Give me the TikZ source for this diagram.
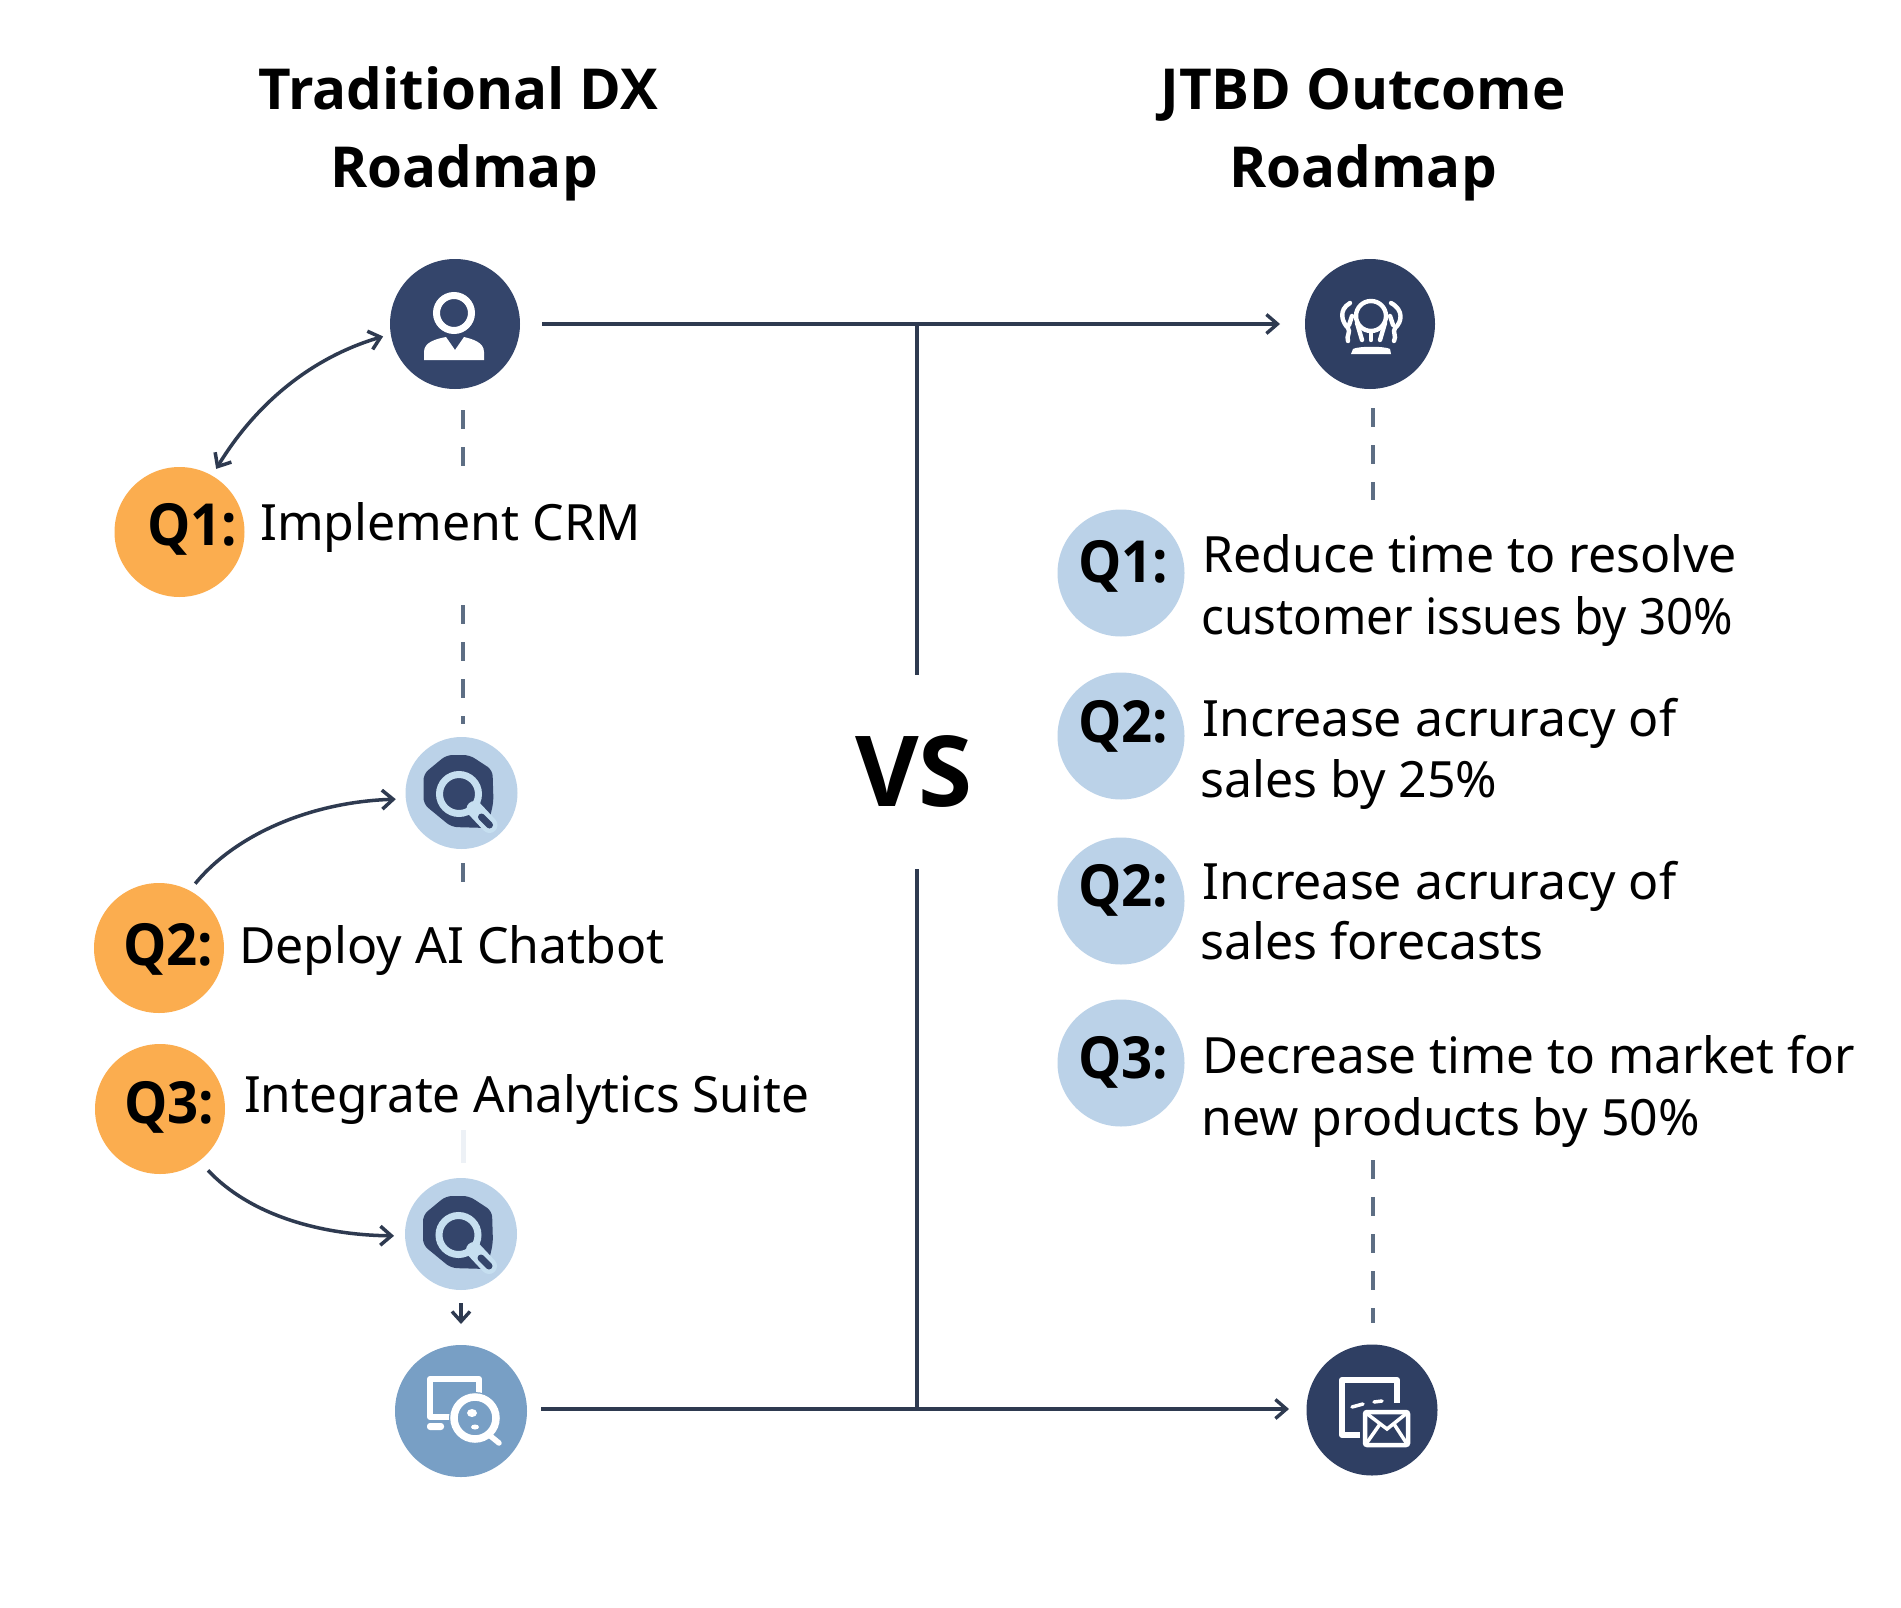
\documentclass[tikz,border=0pt]{standalone}
\usepackage{fontspec}
\setmainfont{Open Sans}
\newfontfamily\bodyf{Noto Sans}
\newfontfamily\bodyn{Noto Sans}[FakeStretch=0.95]
\newfontfamily\bodym{Noto Sans}[FakeStretch=0.99]
\newfontfamily\qfont{Open Sans}[FakeStretch=0.94]
\usetikzlibrary{arrows.meta}
\definecolor{navy}{HTML}{34456B}
\definecolor{navyd}{HTML}{2F3F63}
\definecolor{pale}{HTML}{BBD2E8}
\definecolor{palei}{HTML}{C6DFF0}
\definecolor{orangeq}{HTML}{FBAD4F}
\definecolor{midblue}{HTML}{789FC5}
\definecolor{linec}{HTML}{2E3A50}
\definecolor{dashc}{HTML}{5D6E84}
\definecolor{fainted}{HTML}{EDF1F6}
\tikzset{
  disc/.style={circle,inner sep=0pt,outer sep=0pt,minimum size=#1},
  title/.style={anchor=base,inner sep=0pt,font=\fontsize{56.5}{60}\selectfont\bfseries},
  body/.style={anchor=base west,inner sep=0pt,text=black,font=\bodyf\fontsize{50}{60}\selectfont},
  bodynarrow/.style={body,font=\bodyn\fontsize{50}{60}\selectfont},
  bodyslim/.style={body,font=\bodym\fontsize{50}{60}\selectfont},
  qlab/.style={anchor=base west,inner sep=0pt,text=black,font=\qfont\bfseries\fontsize{58}{60}\selectfont},
  conn/.style={draw=linec,line width=3.4pt},
  arr/.style={conn,-{Straight Barb[length=11pt,width=19pt,line width=3.4pt]}},
  curve/.style={conn,line width=3.5pt},
  dashline/.style={draw=dashc,line width=3.4pt,dash pattern=on 19pt off 18pt},
  magicon/.pic={
    \fill[navy,rounded corners=6pt] (-15,-38) -- (8,-38) -- (31,-23) -- (32,9) -- (26,35) -- (-10,34) -- (-38,11) -- (-38,-19) -- cycle;
    \draw[palei,line width=7pt] (-2.5,1) circle (19.5);
    \draw[palei,line width=16pt,line cap=round] (13,16) -- (28,32);
    \draw[navy,line width=7pt,line cap=round] (20,24) -- (28,32);
  }
}
\begin{document}
\begin{tikzpicture}[x=1pt,y=-1pt]
\useasboundingbox[fill=white] (0,0) rectangle (1901,1608);

% titles
\node[title] (t1a) at (458,110) {Traditional DX};
\node[title] (t1b) at (464,188) {Roadmap};
\node[title] (t2a) at (1363,110) {JTBD Outcome};
\node[title] (t2b) at (1363,188) {Roadmap};

% circles
\node[disc=130pt,fill=navy] (person) at (455,324) {};
\node[disc=130pt,fill=navyd] (outcome) at (1370,324) {};
\node[disc=112pt,fill=pale] (mag1) at (461.5,793) {};
\node[disc=112pt,fill=pale] (mag2) at (461,1234) {};
\node[disc=132pt,fill=midblue] (screen) at (461,1411) {};
\node[disc=131pt,fill=navyd] (mail) at (1372,1410) {};

\node[disc=130pt,fill=orangeq] (q1) at (179.5,532) {};
\node[disc=130pt,fill=orangeq] (q2) at (159,948) {};
\node[disc=130pt,fill=orangeq] (q3) at (160,1109) {};
\node[disc=127pt,fill=pale] (r1) at (1121,573) {};
\node[disc=127pt,fill=pale] (r2) at (1121,736) {};
\node[disc=127pt,fill=pale] (r3) at (1121,901) {};
\node[disc=127pt,fill=pale] (r4) at (1121,1063) {};

% Q labels
\node[qlab] (lq1) at (147,545) {Q1:};
\node[qlab] (lq2) at (123,965) {Q2:};
\node[qlab] (lq3) at (124,1123) {Q3:};
\node[qlab] (lr1) at (1078,582) {Q1:};
\node[qlab] (lr2) at (1078,742) {Q2:};
\node[qlab] (lr3) at (1078,906) {Q2:};
\node[qlab] (lr4) at (1078,1078) {Q3:};

% left text
\node[body] (b1) at (260,540) {Implement CRM};
\node[body] (b2) at (239,963) {Deploy AI Chatbot};
\node[bodyslim] (b3) at (244,1112) {Integrate Analytics Suite};

% right text
\node[body] (c1a) at (1202,572) {Reduce time to resolve};
\node[bodynarrow] (c1b) at (1201,634) {customer issues by 30\%};
\node[body] (c2a) at (1202,736) {Increase acruracy of};
\node[body] (c2b) at (1200,797) {sales by 25\%};
\node[body] (c3a) at (1202,899) {Increase acruracy of};
\node[body] (c3b) at (1200,959) {sales forecasts};
\node[bodyslim] (c4a) at (1202,1073) {Decrease time to market for};
\node[body] (c4b) at (1201,1135) {new products by 50\%};

% VS
\node[anchor=base,inner sep=0pt,font=\fontsize{98}{100}\selectfont\bfseries] (vs) at (914,806) {VS};

% main connectors
\coordinate (tj) at (917,324);
\coordinate (bj) at (917,1409);
\coordinate (va) at (917,675);
\coordinate (vb) at (917,869);
\coordinate (ma) at (520,1409);
\coordinate (mb) at (1307,1409);
\draw[arr,shorten <=22pt,shorten >=25pt] (person) -- (outcome);
\draw[arr,shorten <=21pt,shorten >=18pt] (ma) -- (mb);
\draw[conn] (tj) -- (va);
\draw[conn] (vb) -- (bj);

% curved connectors
\draw[curve,{Straight Barb[length=11pt,width=19pt,line width=3.5pt]}-{Straight Barb[length=11pt,width=19pt,line width=3.5pt]},shorten <=8pt,shorten >=8pt]
  (person.189) .. controls (310,358) and (255,405) .. (q1.60);
\draw[curve,-{Straight Barb[length=11pt,width=19pt,line width=3.5pt]},shorten <=9pt,shorten >=10pt]
  (q2.62) .. controls (235,835) and (310,802) .. (mag1.186);
\draw[curve,-{Straight Barb[length=11pt,width=19pt,line width=3.5pt]},shorten <=13pt,shorten >=11pt]
  (q3.-53) .. controls (250,1215) and (320,1235) .. (mag2.182);
\draw[linec,line width=3.4pt,-{Straight Barb[length=10pt,width=18pt,line width=3.4pt]},shorten <=13pt,shorten >=21pt] (mag2) -- (screen);

% dashed guides
\coordinate (d1a) at (463,410); \coordinate (d1b) at (463,467);
\coordinate (d2a) at (463,605); \coordinate (d2b) at (463,724);
\coordinate (d3a) at (463,863); \coordinate (d3b) at (463,883);
\coordinate (d4a) at (463,1130); \coordinate (d4b) at (463,1163);
\coordinate (d5a) at (1373,408); \coordinate (d5b) at (1373,500);
\coordinate (d6a) at (1373,1160); \coordinate (d6b) at (1373,1323);
\draw[dashline] (d1a) -- (d1b);
\draw[dashline] (d2a) -- (d2b);
\draw[dashline] (d3a) -- (d3b);
\draw[draw=fainted,line width=5pt] (d4a) -- (d4b);
\draw[dashline] (d5a) -- (d5b);
\draw[dashline] (d6a) -- (d6b);

% person icon
\draw[white,line width=7pt] (454,313) circle (17.5);
\fill[white] (424,360) -- (484,360) -- (484,352) .. controls (484,342) and (472,339) .. (464,337) -- (455,350) -- (446,337) .. controls (436,339) and (424,342) .. (424,352) -- cycle;

% outcome icon
\begin{scope}[white,line width=4.4pt,line cap=round]
  \draw (1371,316) circle (15);
  \draw (1350,303) .. controls (1338,310) and (1342,322) .. (1348,328) .. controls (1351,332) and (1346,336) .. (1348,341);
  \draw (1391,303) .. controls (1404,310) and (1402,322) .. (1395,328) .. controls (1392,332) and (1397,336) .. (1394,341);
  \draw (1357,323) -- (1362,340);
  \draw (1371,333) -- (1371,340);
  \draw (1385,323) -- (1380,340);
  \draw (1352,316) -- (1349,325);
  \draw (1390,316) -- (1393,325);
\end{scope}
\fill[white] (1351,354) -- (1391,354) -- (1390,349) .. controls (1385,346) and (1358,346) .. (1353,349) -- cycle;

% magnifier icons
\pic at (mag1) {magicon};
\pic at (mag2) {magicon};

% screen icon
\draw[white,line width=6pt,line join=round] (451,1417) -- (430,1417) -- (430,1379) -- (479,1379) -- (479,1394);
\fill[white,rounded corners=3pt] (427,1423) rectangle (444,1430);
\fill[midblue] (475,1418) circle (26);
\draw[white,line width=7.5pt] (475,1418) circle (21);
\draw[white,line width=5.5pt,line cap=round] (488,1434) -- (499,1443);
\fill[white] (472,1413) ellipse (5 and 4);
\fill[white] (475,1427) ellipse (4 and 2.5);

% mail icon
\draw[white,line width=6pt,line join=round] (1397,1403) -- (1397,1380) -- (1342,1380) -- (1342,1435) -- (1360,1435);
\draw[white,line width=3.5pt,line cap=round] (1352,1407) -- (1363,1404);
\draw[white,line width=3.5pt,line cap=round] (1374,1402) -- (1382,1401);
\filldraw[fill=navyd,draw=white,line width=4.5pt,rounded corners=2pt] (1365,1412) rectangle (1408,1445);
\draw[white,line width=3.5pt] (1366,1413) -- (1387,1429) -- (1407,1413);
\draw[white,line width=3.5pt] (1366,1444) -- (1380,1424);
\draw[white,line width=3.5pt] (1407,1444) -- (1394,1424);
\end{tikzpicture}
\end{document}
